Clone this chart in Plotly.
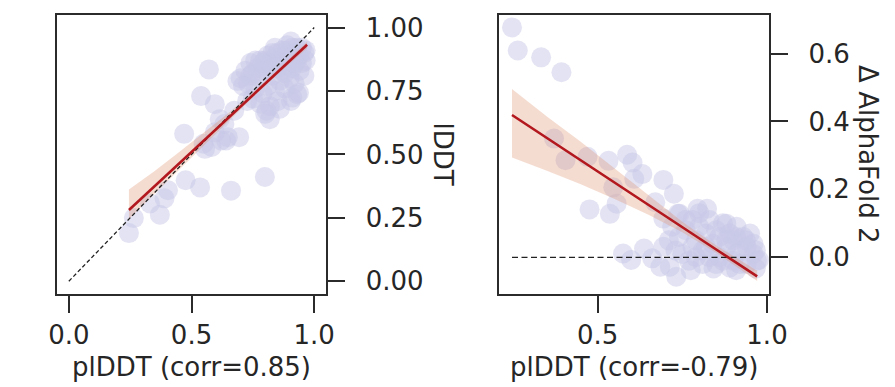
import plotly.graph_objects as go

# ---------------- data ----------------
# Left panel: pLDDT vs lDDT
left_x = [0.245, 0.265, 0.331, 0.371, 0.390, 0.404, 0.476, 0.535, 0.661, 0.799,
          0.470, 0.549, 0.582, 0.555, 0.621, 0.641, 0.648, 0.694, 0.595, 0.634,
          0.539, 0.595, 0.571, 0.674, 0.615, 0.819, 0.806, 0.727, 0.911, 0.931,
          0.687, 0.905, 0.905, 0.938,
          0.70, 0.72, 0.73, 0.74, 0.75, 0.76, 0.76, 0.77, 0.78, 0.78,
          0.79, 0.80, 0.80, 0.81, 0.81, 0.82, 0.83, 0.83, 0.84, 0.84,
          0.85, 0.85, 0.86, 0.86, 0.87, 0.87, 0.88, 0.88, 0.89, 0.89,
          0.90, 0.90, 0.91, 0.91, 0.92, 0.92, 0.93, 0.93, 0.94, 0.94,
          0.95, 0.95, 0.96, 0.96, 0.965, 0.965, 0.75, 0.78, 0.82, 0.85,
          0.80, 0.86, 0.74, 0.83, 0.88, 0.92, 0.79, 0.71, 0.84, 0.89]
left_y = [0.190, 0.249, 0.307, 0.262, 0.327, 0.359, 0.398, 0.370, 0.357, 0.411,
          0.581, 0.542, 0.529, 0.522, 0.555, 0.555, 0.568, 0.568, 0.587, 0.620,
          0.730, 0.698, 0.835, 0.672, 0.639, 0.639, 0.672, 0.711, 0.724, 0.737,
          0.789, 0.945, 0.711, 0.743,
          0.80, 0.83, 0.78, 0.86, 0.82, 0.87, 0.76, 0.84, 0.87, 0.80,
          0.74, 0.87, 0.83, 0.89, 0.77, 0.86, 0.90, 0.81, 0.88, 0.75,
          0.84, 0.90, 0.79, 0.87, 0.91, 0.83, 0.89, 0.76, 0.85, 0.91,
          0.80, 0.88, 0.92, 0.84, 0.90, 0.78, 0.87, 0.92, 0.83, 0.89,
          0.92, 0.86, 0.90, 0.81, 0.91, 0.87, 0.72, 0.70, 0.69, 0.71,
          0.66, 0.68, 0.81, 0.84, 0.82, 0.86, 0.86, 0.77, 0.92, 0.93]

# Right panel: pLDDT vs delta AlphaFold 2
right_x = [0.247, 0.264, 0.333, 0.393, 0.371, 0.405, 0.470, 0.476, 0.532, 0.546,
           0.556, 0.536, 0.587, 0.603, 0.608, 0.632, 0.694, 0.725, 0.670, 0.737,
           0.694, 0.575, 0.599, 0.637, 0.661, 0.694, 0.685, 0.732, 0.713,
           0.795, 0.823, 0.742, 0.880, 0.909, 0.938, 0.967, 0.976, 0.775, 0.842,
           0.909, 0.967,
           0.76, 0.78, 0.79, 0.80, 0.81, 0.82, 0.83, 0.84, 0.85, 0.86,
           0.86, 0.87, 0.88, 0.89, 0.90, 0.90, 0.91, 0.92, 0.93, 0.94,
           0.94, 0.95, 0.96, 0.96, 0.97, 0.75, 0.77, 0.79, 0.81, 0.83,
           0.85, 0.87, 0.89, 0.92, 0.74, 0.72, 0.73, 0.71, 0.78, 0.82,
           0.88, 0.91, 0.80, 0.76]
right_y = [0.677, 0.609, 0.589, 0.545, 0.350, 0.286, 0.296, 0.141, 0.284, 0.206,
           0.158, 0.128, 0.302, 0.279, 0.231, 0.245, 0.228, 0.187, 0.162, 0.128,
           0.114, 0.011, -0.008, 0.026, -0.003, 0.031, -0.028, -0.057, -0.028,
           0.143, 0.143, 0.128, 0.099, 0.060, 0.050, 0.021, -0.008, -0.038, -0.033,
           -0.038, -0.033,
           0.08, 0.11, 0.05, 0.09, 0.02, 0.07, 0.11, 0.04, 0.08, 0.00,
           0.06, 0.10, 0.03, 0.07, -0.01, 0.05, 0.09, 0.02, 0.06, -0.02,
           0.03, 0.07, 0.01, 0.04, -0.01, 0.01, -0.01, 0.00, -0.02, 0.00,
           -0.02, -0.01, -0.03, -0.02, 0.06, 0.09, 0.02, 0.05, 0.03, 0.03,
           0.05, 0.01, 0.13, 0.11]

# Regression fits and confidence bands
left_fit_x = [0.245, 0.35, 0.45, 0.55, 0.65, 0.75, 0.85, 0.971]
left_fit_y = [0.281, 0.375, 0.465, 0.555, 0.644, 0.734, 0.824, 0.932]
left_ci_lo = [0.245, 0.345, 0.440, 0.535, 0.630, 0.725, 0.815, 0.918]
left_ci_hi = [0.362, 0.435, 0.510, 0.585, 0.662, 0.745, 0.833, 0.945]

right_fit_x = [0.247, 0.35, 0.45, 0.55, 0.65, 0.75, 0.85, 0.971]
right_fit_y = [0.419, 0.351, 0.286, 0.220, 0.155, 0.089, 0.023, -0.056]
right_ci_lo = [0.294, 0.255, 0.215, 0.172, 0.125, 0.074, 0.013, -0.070]
right_ci_hi = [0.496, 0.415, 0.340, 0.262, 0.183, 0.105, 0.035, -0.040]

left_ref_x = [0.0, 1.0]
left_ref_y = [0.0, 1.0]
right_ref_x = [0.247, 0.970]
right_ref_y = [0.0, 0.0]

left_xticks = [0.0, 0.5, 1.0]
left_yticks = [0.0, 0.25, 0.5, 0.75, 1.0]
right_xticks = [0.5, 1.0]
right_yticks = [0.0, 0.2, 0.4, 0.6]

left_xlabel = "plDDT (corr=0.85)"
right_xlabel = "plDDT (corr=-0.79)"
left_ylabel = "lDDT"
right_ylabel = "Δ AlphaFold 2"

# ---------------- styles ----------------
FONT = "DejaVu Sans"
TXT = "#262626"
FRAME = "#2b2b2b"
PT = "rgba(200,200,232,0.5)"
BAND = "rgba(225,150,115,0.33)"
LINE = "#b2181e"
FS = 26

W, H = 895, 387
fig = go.Figure()

def add_panel(xs, ys, fx, fy, lo, hi, rx, ry, xa, ya, dash_style):
    fig.add_trace(go.Scatter(x=xs, y=ys, mode="markers", xaxis=xa, yaxis=ya,
                             marker=dict(size=20, color=PT, line=dict(width=0)),
                             showlegend=False, hoverinfo="skip"))
    fig.add_trace(go.Scatter(x=fx + fx[::-1], y=hi + lo[::-1], mode="lines",
                             fill="toself", fillcolor=BAND, line=dict(width=0),
                             xaxis=xa, yaxis=ya, showlegend=False, hoverinfo="skip"))
    fig.add_trace(go.Scatter(x=rx, y=ry, mode="lines", xaxis=xa, yaxis=ya,
                             line=dict(color="#222222", width=1.3, dash=dash_style),
                             showlegend=False, hoverinfo="skip"))
    fig.add_trace(go.Scatter(x=fx, y=fy, mode="lines", xaxis=xa, yaxis=ya,
                             line=dict(color=LINE, width=2.6),
                             showlegend=False, hoverinfo="skip"))

add_panel(left_x, left_y, left_fit_x, left_fit_y, left_ci_lo, left_ci_hi,
          left_ref_x, left_ref_y, "x", "y", "4px,2.5px")
add_panel(right_x, right_y, right_fit_x, right_fit_y, right_ci_lo, right_ci_hi,
          right_ref_x, right_ref_y, "x2", "y2", "6px,3.5px")

ydom = [1 - 295 / H, 1 - 13 / H]
axis_common = dict(showline=True, linecolor=FRAME, linewidth=2, mirror=True,
                   ticks="outside", ticklen=17, tickwidth=2, tickcolor=FRAME,
                   showgrid=False, zeroline=False,
                   tickfont=dict(family=FONT, size=FS, color=TXT))

fig.update_layout(
    width=W, height=H, margin=dict(l=0, r=0, t=0, b=0),
    paper_bgcolor="white", plot_bgcolor="white",
    font=dict(family=FONT, color=TXT),
    xaxis=dict(domain=[50 / W, 328 / W], range=[-0.05, 1.05], anchor="y",
               tickvals=left_xticks, tickformat=".1f", ticklabelstandoff=0, **axis_common),
    yaxis=dict(domain=ydom, range=[-0.05, 1.05], anchor="x", side="right",
               tickvals=left_yticks, tickformat=".2f", ticklabelstandoff=15, **axis_common),
    xaxis2=dict(domain=[506 / W, 784 / W], range=[0.2095, 1.0066], anchor="y2",
                tickvals=right_xticks, tickformat=".1f", ticklabelstandoff=0, **axis_common),
    yaxis2=dict(domain=ydom, range=[-0.108, 0.714], anchor="x2", side="right",
                tickvals=right_yticks, tickformat=".1f", ticklabelstandoff=15, **axis_common),
)

annos = [
    dict(text=left_xlabel, x=189 / W, y=1 - 369 / H, textangle=0),
    dict(text=right_xlabel, x=645 / W, y=1 - 369 / H, textangle=0),
    dict(text=left_ylabel, x=448 / W, y=1 - 154 / H, textangle=90),
    dict(text=right_ylabel, x=885 / W, y=1 - 154 / H, textangle=90),
]
for a in annos:
    fig.add_annotation(xref="paper", yref="paper", showarrow=False,
                       xanchor="center", yanchor="middle",
                       font=dict(family=FONT, size=FS, color=TXT), **a)

fig.write_html("out.html")
